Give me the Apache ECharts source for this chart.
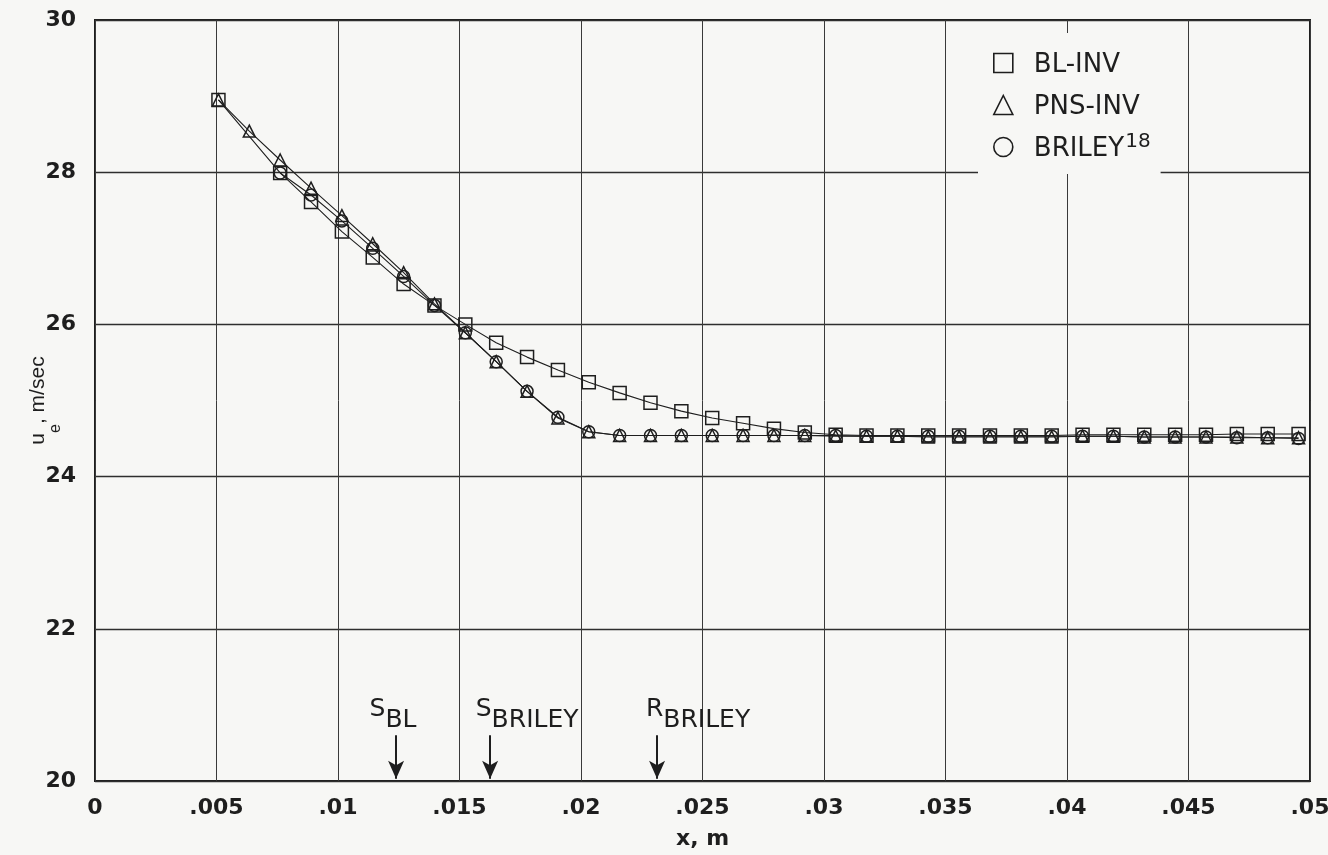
<!DOCTYPE html>
<html>
<head>
<meta charset="utf-8">
<script src="https://cdn.jsdelivr.net/npm/echarts@6/dist/echarts.min.js"></script>
<style>
html,body{margin:0;padding:0;background:#f7f7f5;}
#c{width:1328px;height:855px;}
</style>
</head>
<body>
<div id="c"></div>
<script>
// x stations (m)
var xValues = [0.00508, 0.00635, 0.00762, 0.00889, 0.01016, 0.01143, 0.0127, 0.01397, 0.01524, 0.01651,
  0.01778, 0.01905, 0.02032, 0.02159, 0.02286, 0.02413, 0.0254, 0.02667, 0.02794, 0.02921,
  0.03048, 0.03175, 0.03302, 0.03429, 0.03556, 0.03683, 0.0381, 0.03937, 0.04064, 0.04191,
  0.04318, 0.04445, 0.04572, 0.04699, 0.04826, 0.04953];

var blInv = [28.95, null, 27.99, 27.61, 27.22, 26.88, 26.53, 26.25, 26.00, 25.76,
  25.57, 25.40, 25.24, 25.10, 24.97, 24.86, 24.77, 24.70, 24.63, 24.58,
  24.55, 24.54, 24.54, 24.54, 24.54, 24.54, 24.54, 24.54, 24.55, 24.55,
  24.55, 24.55, 24.55, 24.56, 24.56, 24.56];

var pnsInv = [28.95, 28.54, 28.16, 27.79, 27.43, 27.06, 26.68, 26.27, 25.89, 25.51,
  25.12, 24.77, 24.59, 24.54, 24.54, 24.54, 24.54, 24.54, 24.54, 24.54,
  24.53, 24.53, 24.53, 24.52, 24.52, 24.52, 24.52, 24.52, 24.53, 24.53,
  24.52, 24.52, 24.52, 24.52, 24.51, 24.51];

var briley = [null, null, 27.99, 27.70, 27.36, 27.00, 26.63, 26.25, 25.89, 25.51,
  25.12, 24.78, 24.59, 24.54, 24.54, 24.54, 24.54, 24.54, 24.54, 24.54,
  24.54, 24.53, 24.53, 24.53, 24.53, 24.53, 24.53, 24.53, 24.53, 24.53,
  24.52, 24.52, 24.52, 24.51, 24.51, 24.50];

var xTickLabels = ['0', '.005', '.01', '.015', '.02', '.025', '.03', '.035', '.04', '.045', '.05'];
var yTickLabels = ['20', '22', '24', '26', '28', '30'];

// annotation markers (x position, label parts)
var markerX = [0.01239, 0.01626, 0.02313];
var markerMain = ['S', 'S', 'R'];
var markerSub = ['BL', 'BRILEY', 'BRILEY'];
var markerLabelShift = [-3, 37, 41];

function pair(xs, ys) {
  var out = [];
  for (var i = 0; i < xs.length; i++) out.push([xs[i], ys[i]]);
  return out;
}

var FONT = 'DejaVu Sans';
var INK = '#1e1e1e';

var markData = [];
for (var i = 0; i < markerX.length; i++) {
  markData.push([
    {coord: [markerX[i], 20.6], label: {formatter: '{m|' + markerMain[i] + '}{s|' + markerSub[i] + '}', offset: [markerLabelShift[i], 0]}},
    {coord: [markerX[i], 20.03]}
  ]);
}

var symStyle = {color: 'rgba(0,0,0,0)', borderColor: INK, borderWidth: 1.5};

var chart = echarts.init(document.getElementById('c'), null, {renderer: 'canvas'});
chart.setOption({
  backgroundColor: '#f7f7f5',
  animation: false,
  grid: {left: 95, right: 18, top: 20, bottom: 74, show: true, borderColor: INK, borderWidth: 2,
    backgroundColor: 'transparent', containLabel: false, outerBoundsMode: 'none'},
  legend: {
    orient: 'vertical', left: 978, top: 33, itemGap: 12, itemWidth: 19, itemHeight: 19,
    padding: [15, 10, 12, 15], backgroundColor: '#f7f7f5', z: 10,
    itemStyle: {color: 'rgba(0,0,0,0)', borderColor: INK, borderWidth: 1.6},
    data: [{name: 'BL-INV', icon: 'rect'}, {name: 'PNS-INV', icon: 'triangle'}, {name: 'BRILEY', icon: 'circle'}],
    formatter: function (n) { return n === 'BRILEY' ? '{a|BRILEY}{p|18}' : '{a|' + n + '}'; },
    textStyle: {
      color: INK, fontFamily: FONT, fontSize: 26, lineHeight: 30,
      rich: {
        a: {fontFamily: FONT, fontSize: 26, color: INK, verticalAlign: 'bottom', lineHeight: 30, padding: [0, 0, 0, 16]},
        p: {fontFamily: FONT, fontSize: 20, color: INK, verticalAlign: 'top', lineHeight: 30, padding: [0, 0, 6, 1]}
      }
    }
  },
  xAxis: {
    type: 'value', min: 0, max: 0.05, interval: 0.005,
    axisLine: {show: false}, axisTick: {show: false},
    splitLine: {show: true, lineStyle: {color: '#3a3a3a', width: 1}},
    axisLabel: {
      color: INK, fontFamily: FONT, fontSize: 22, fontWeight: 'bold', margin: 16,
      formatter: function (v) { return xTickLabels[Math.round(v / 0.005)]; }
    },
    name: 'x, m', nameLocation: 'middle', nameGap: 47, nameMoveOverlap: false,
    nameTextStyle: {color: INK, fontFamily: FONT, fontSize: 22, fontWeight: 'bold'}
  },
  yAxis: {
    type: 'value', min: 20, max: 30, interval: 2,
    axisLine: {show: false}, axisTick: {show: false},
    splitLine: {show: true, lineStyle: {color: '#2e2e2e', width: 1.3}},
    axisLabel: {
      color: INK, fontFamily: FONT, fontSize: 22, fontWeight: 'bold', margin: 19,
      formatter: function (v) { return yTickLabels[Math.round((v - 20) / 2)]; }
    },
    name: '{u|u}{e|e}{c|, m/sec}', nameLocation: 'middle', nameGap: 31, nameRotate: 90, nameMoveOverlap: false,
    nameTextStyle: {
      color: INK, fontFamily: 'Liberation Sans', fontSize: 21,
      rich: {
        u: {fontFamily: 'Liberation Sans', fontSize: 21, color: INK, verticalAlign: 'top', lineHeight: 36},
        e: {fontFamily: 'Liberation Sans', fontSize: 16, color: INK, verticalAlign: 'bottom', lineHeight: 36},
        c: {fontFamily: 'Liberation Sans', fontSize: 21, color: INK, verticalAlign: 'top', lineHeight: 36}
      }
    }
  },
  series: [
    {
      name: 'BL-INV', type: 'line', data: pair(xValues, blInv), connectNulls: true,
      symbol: 'rect', symbolSize: 13, showAllSymbol: true,
      lineStyle: {color: INK, width: 1.1}, itemStyle: symStyle, z: 3
    },
    {
      name: 'PNS-INV', type: 'line', data: pair(xValues, pnsInv), connectNulls: true,
      symbol: 'triangle', symbolSize: 12, showAllSymbol: true,
      lineStyle: {color: INK, width: 1.1}, itemStyle: symStyle, z: 4
    },
    {
      name: 'BRILEY', type: 'line', data: pair(xValues, briley), connectNulls: true,
      symbol: 'circle', symbolSize: 12, showAllSymbol: true,
      lineStyle: {color: INK, width: 1.1}, itemStyle: symStyle, z: 5
    },
    {
      name: 'markers', type: 'line', data: [], silent: true,
      markLine: {
        silent: true, symbol: ['none', 'arrow'], symbolSize: [12, 18], animation: false,
        lineStyle: {color: INK, width: 2, type: 'solid'},
        label: {
          show: true, position: 'start', distance: 2,
          rich: {
            m: {fontFamily: FONT, fontSize: 25, color: INK, verticalAlign: 'top', lineHeight: 36},
            s: {fontFamily: FONT, fontSize: 25, color: INK, verticalAlign: 'bottom', lineHeight: 36}
          }
        },
        data: markData
      }
    }
  ]
});
</script>
</body>
</html>
